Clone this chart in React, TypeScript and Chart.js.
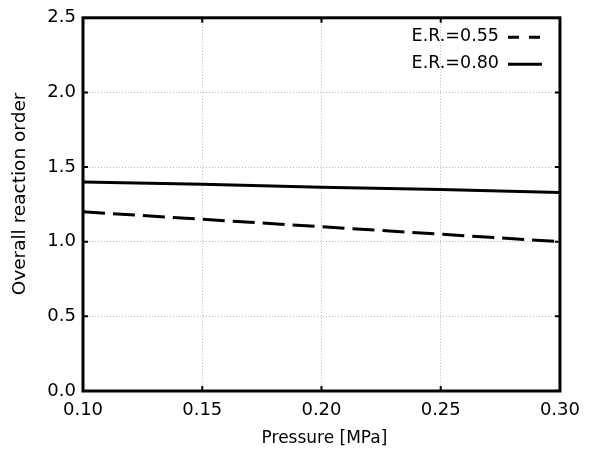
import React, { useEffect, useRef } from "react";
import { Chart, registerables } from "chart.js";

Chart.register(...registerables);

const pressure = [0.1, 0.15, 0.2, 0.25, 0.3];
const er055 = [1.2, 1.15, 1.1, 1.05, 1.0];
const er080 = [1.4, 1.385, 1.365, 1.35, 1.33];
const seriesLabels = ["E.R.=0.55", "E.R.=0.80"];
const xTitle = "Pressure [MPa]";
const yTitle = "Overall reaction order";

const FONT = "'DejaVu Sans', sans-serif";

const framePlugin = {
  id: "frame",
  afterDatasetsDraw(chart: any) {
    const { ctx, chartArea } = chart;
    const { left, right, top, bottom } = chartArea;
    const xs = chart.scales.x;
    const ys = chart.scales.y;
    ctx.save();
    ctx.strokeStyle = "#000";
    ctx.lineWidth = 2;
    ctx.setLineDash([]);
    xs.ticks.forEach((t: any) => {
      const px = xs.getPixelForValue(t.value);
      if (px <= left + 2 || px >= right - 2) return;
      ctx.beginPath();
      ctx.moveTo(px, bottom);
      ctx.lineTo(px, bottom - 5);
      ctx.moveTo(px, top);
      ctx.lineTo(px, top + 5);
      ctx.stroke();
    });
    ys.ticks.forEach((t: any) => {
      const py = ys.getPixelForValue(t.value);
      if (py <= top + 2 || py >= bottom - 2) return;
      ctx.beginPath();
      ctx.moveTo(left, py);
      ctx.lineTo(left + 5, py);
      ctx.moveTo(right, py);
      ctx.lineTo(right - 5, py);
      ctx.stroke();
    });
    ctx.lineWidth = 3;
    ctx.strokeRect(left, top, right - left, bottom - top);

    // legend
    ctx.font = `17.5px ${FONT}`;
    ctx.fillStyle = "#000";
    ctx.textAlign = "right";
    ctx.textBaseline = "middle";
    const rows = [
      { y: top + 19, dash: [11, 10] },
      { y: top + 46, dash: [] as number[] },
    ];
    chart.data.datasets.forEach((ds: any, i: number) => {
      const r = rows[i];
      ctx.fillText(ds.label, right - 61, r.y);
      ctx.beginPath();
      ctx.setLineDash(r.dash);
      ctx.lineWidth = 3;
      ctx.moveTo(right - 52, r.y + 0.5);
      ctx.lineTo(right - 18, r.y + 0.5);
      ctx.stroke();
    });

    // axis titles
    ctx.setLineDash([]);
    ctx.textAlign = "center";
    ctx.textBaseline = "middle";
    ctx.font = `17px ${FONT}`;
    ctx.fillText(xTitle, (left + right) / 2 + 3, 439);
    ctx.save();
    ctx.translate(20, 194);
    ctx.rotate(-Math.PI / 2);
    ctx.font = `18.5px ${FONT}`;
    ctx.fillText(yTitle, 0, 0);
    ctx.restore();
    ctx.restore();
  },
};

export default function App() {
  const ref = useRef<HTMLCanvasElement>(null);
  useEffect(() => {
    if (!ref.current) return;
    const chart = new Chart(ref.current, {
      type: "line",
      data: {
        datasets: [
          {
            label: seriesLabels[0],
            data: pressure.map((x, i) => ({ x, y: er055[i] })),
            borderColor: "#000",
            borderWidth: 3,
            borderDash: [22, 8],
            pointRadius: 0,
            fill: false,
          },
          {
            label: seriesLabels[1],
            data: pressure.map((x, i) => ({ x, y: er080[i] })),
            borderColor: "#000",
            borderWidth: 3,
            pointRadius: 0,
            fill: false,
          },
        ],
      },
      options: {
        responsive: false,
        animation: false,
        layout: { padding: { left: 0, top: 16, right: 25, bottom: 0 } },
        plugins: { legend: { display: false }, tooltip: { enabled: false } },
        scales: {
          x: {
            type: "linear",
            min: 0.1,
            max: 0.3,
            afterFit: (s: any) => {
              s.height = 59;
            },
            ticks: {
              stepSize: 0.05,
              padding: 9,
              color: "#000",
              font: { family: FONT, size: 18 },
              callback: (v: any) => Number(v).toFixed(2),
            },
            grid: { color: "#b8b8b8", lineWidth: 1, drawTicks: false },
            border: { display: false, dash: [1, 2] },
            title: { display: false },
          },
          y: {
            type: "linear",
            min: 0,
            max: 2.5,
            afterFit: (s: any) => {
              s.width = 83;
            },
            ticks: {
              stepSize: 0.5,
              padding: 7,
              color: "#000",
              font: { family: FONT, size: 18 },
              callback: (v: any) => Number(v).toFixed(1),
            },
            grid: { color: "#b8b8b8", lineWidth: 1, drawTicks: false },
            border: { display: false, dash: [1, 2] },
            title: { display: false },
          },
        },
      },
      plugins: [framePlugin],
    });
    return () => chart.destroy();
  }, []);
  return (
    <canvas
      ref={ref}
      width={589}
      height={450}
      style={{ position: "absolute", left: 0, top: 0, width: 589, height: 450, background: "#fff" }}
    />
  );
}
